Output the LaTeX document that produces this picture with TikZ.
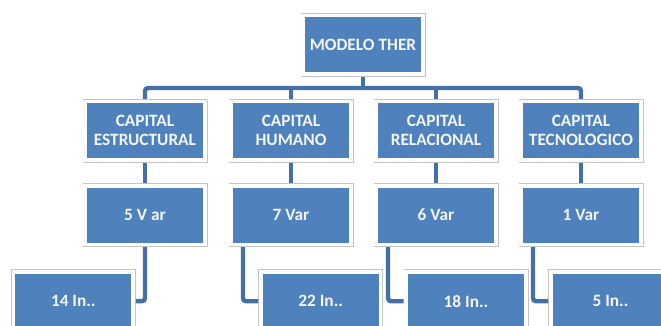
\documentclass[tikz,border=0pt]{standalone}
\usepackage{fontspec}
\setmainfont{Carlito}
\usetikzlibrary{calc}
\definecolor{boxblue}{HTML}{4F81BD}
\definecolor{linecol}{HTML}{4470A8}
\definecolor{framegray}{HTML}{C4C4C4}
\definecolor{textwhite}{HTML}{F2F5FA}
\tikzset{
  orgbox/.style={rectangle, fill=boxblue, draw=white, line width=3.6pt,
    preaction={draw=framegray, line width=5.4pt},
    minimum width=119.6pt, minimum height=58.6pt, inner sep=0pt, outer sep=2.7pt,
    text=textwhite, font=\bfseries\fontsize{17.3}{19}\selectfont, align=center},
  conn/.style={draw=linecol, line width=4.4pt, rounded corners=3pt}
}
\begin{document}
\begin{tikzpicture}[x=1pt,y=-1pt]
\useasboundingbox (0,0) rectangle (661,326);
\clip (0,0) rectangle (661,326);
% level 0
\node[orgbox] (top) at (363,45) {MODELO THER};
% level 1
\node[orgbox] (c1) at (145,130.8) {CAPITAL\\ESTRUCTURAL};
\node[orgbox] (c2) at (291,130.8) {CAPITAL\\HUMANO};
\node[orgbox] (c3) at (436,130.8) {CAPITAL\\RELACIONAL};
\node[orgbox] (c4) at (581,130.8) {CAPITAL\\TECNOLOGICO};
% level 2
\node[orgbox] (v1) at (145,215) {5 V ar};
\node[orgbox] (v2) at (291,215) {7 Var};
\node[orgbox] (v3) at (436,215) {6 Var};
\node[orgbox] (v4) at (581,215) {1 Var};
% level 3
\node[orgbox] (i1) at (73.3,301.2) {14 In..};
\node[orgbox] (i2) at (320.7,301.2) {22 In..};
\node[orgbox] (i3) at (466,301.2) {18 In..};
\node[orgbox] (i4) at (610.5,301.2) {5 In..};
% connectors
\coordinate (bus) at (363,88);
\draw[conn] (top.south) -- (bus);
\draw[conn] (c1.north) |- (bus) -| (c4.north);
\draw[conn] (bus -| c2.north) -- (c2.north);
\draw[conn] (bus -| c3.north) -- (c3.north);
\foreach \n in {1,2,3,4}{
  \draw[conn] (c\n.south) -- (v\n.north);
}
\draw[conn] (v1.south) |- (i1.east);
\draw[conn] ($(v2.south)+(-48,0)$) |- (i2.west);
\draw[conn] ($(v3.south)+(-48,0)$) |- (i3.west);
\draw[conn] ($(v4.south)+(-48,0)$) |- (i4.west);
\end{tikzpicture}
\end{document}
